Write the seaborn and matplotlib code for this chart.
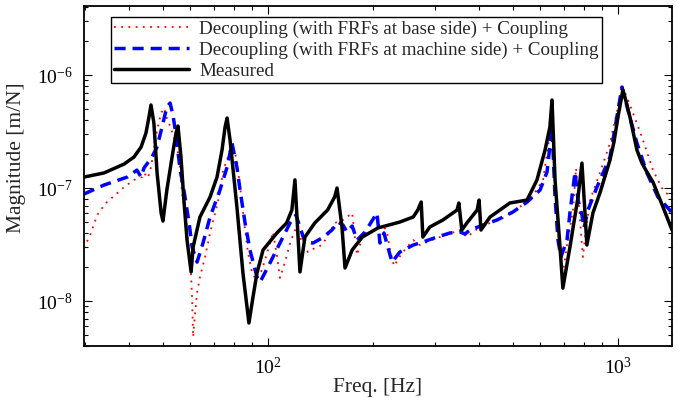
import numpy as np
import pandas as pd
import matplotlib
matplotlib.use("Agg")
import matplotlib.pyplot as plt
import seaborn as sns
from matplotlib.ticker import LogLocator, NullFormatter, LogFormatterSciNotation

# Decoupling (FRFs at base side) + Coupling
freq_base = [29.8, 31.2, 32.5, 34.4, 36.3, 38.8, 41.4, 43.65, 44.2, 45.4, 46.3, 47.2, 48.2, 49.5,
             50.5, 51.4, 52.5, 53.9, 55.7, 56.8, 58.3, 59.5, 60.3, 60.7, 61.1, 61.9, 62.7, 63.9,
             66.1, 68.3, 70.6, 72.9, 74.4, 76.4, 78.9, 81.5, 82.6, 84.3, 86.0, 87.7, 90.0, 92.4,
             96.1, 100, 103.3, 106, 108.2, 111.8, 116.3, 120.2, 125.1, 130.1, 136, 142.7, 147.4,
             155, 163.8, 174, 179.6, 186.8, 202.2, 213.1, 218.8, 223.2, 229.1, 241.5, 260, 271.8,
             304, 354, 370, 403, 469, 561, 611, 635, 648, 661, 678, 692, 715, 744, 759, 779, 794,
             810, 832, 888, 949, 1000, 1027, 1096, 1179, 1259, 1345, 1427]
mag_base = [2.94e-8, 4.00e-8, 5.77e-8, 7.37e-8, 8.49e-8, 1.02e-7, 1.18e-7, 1.25e-7, 1.36e-7, 1.23e-7,
            1.53e-7, 2.17e-7, 3.26e-7, 4.61e-7, 5.10e-7, 4.16e-7, 3.54e-7, 2.77e-7, 1.88e-7, 9.03e-8,
            5.21e-8, 2.83e-8, 1.63e-8, 1.02e-8, 4.80e-9, 7.83e-9, 1.18e-8, 1.63e-8, 2.45e-8, 4.00e-8,
            6.01e-8, 9.03e-8, 1.44e-7, 1.77e-7, 2.50e-7, 1.77e-7, 1.25e-7, 7.37e-8, 4.25e-8, 2.66e-8,
            1.81e-8, 1.53e-8, 1.88e-8, 2.83e-8, 4.08e-8, 2.55e-8, 1.60e-8, 2.21e-8, 3.46e-8, 4.43e-8,
            3.33e-8, 2.71e-8, 2.94e-8, 3.13e-8, 3.68e-8, 4.90e-8, 5.21e-8, 6.01e-8, 2.55e-8, 3.84e-8,
            4.25e-8, 4.70e-8, 4.08e-8, 2.83e-8, 2.04e-8, 2.66e-8, 3.46e-8, 3.13e-8, 3.61e-8, 4.25e-8,
            3.68e-8, 4.52e-8, 5.43e-8, 7.83e-8, 1.18e-7, 2.66e-7, 3.61e-7, 1.30e-7, 3.46e-8, 1.53e-8,
            3.13e-8, 6.39e-8, 1.50e-7, 5.21e-8, 2.45e-8, 4.25e-8, 7.83e-8, 1.36e-7, 2.50e-7, 5.21e-7,
            8.16e-7, 4.90e-7, 2.66e-7, 1.44e-7, 9.60e-8, 8.16e-8]

# Decoupling (FRFs at machine side) + Coupling
freq_machine = [29.8, 34.0, 39.6, 42.2, 43.4, 44.2, 46.6, 48.2, 49.8, 51.4, 52.5, 53.5, 54.6, 56.1,
                57.5, 59.5, 60.7, 62.7, 65.2, 68.3, 72.9, 76.4, 78.9, 81.5, 83.2, 86.0, 88.8, 93.0,
                94.9, 101.3, 108.2, 115.6, 120.2, 127.5, 134.5, 142.7, 152.3, 158.5, 163.8, 168.1,
                174, 179.6, 189.3, 204.8, 208.9, 214.5, 218.8, 226.2, 238, 260, 277, 304, 331, 354,
                365.5, 377.7, 411.5, 451, 501, 550, 599, 627, 648, 661, 674, 687, 715, 729, 754, 769,
                789, 800, 821, 871, 949, 993, 1026.6, 1068, 1133, 1210, 1301, 1390, 1427]
mag_machine = [8.85e-8, 1.063e-7, 1.25e-7, 1.44e-7, 1.25e-7, 1.50e-7, 1.88e-7, 2.31e-7, 3.47e-7,
               5.21e-7, 5.65e-7, 4.43e-7, 2.94e-7, 1.44e-7, 9.60e-8, 4.90e-8, 3.00e-8, 2.21e-8,
               3.26e-8, 5.54e-8, 9.60e-8, 1.53e-7, 2.50e-7, 1.53e-7, 9.60e-8, 4.90e-8, 2.83e-8,
               1.63e-8, 1.47e-8, 2.17e-8, 3.26e-8, 4.90e-8, 5.77e-8, 3.33e-8, 3.26e-8, 3.61e-8,
               4.25e-8, 5.00e-8, 4.70e-8, 4.08e-8, 4.61e-8, 3.46e-8, 4.08e-8, 6.01e-8, 3.26e-8,
               4.00e-8, 3.19e-8, 2.21e-8, 2.71e-8, 3.13e-8, 3.33e-8, 3.68e-8, 4.00e-8, 4.08e-8,
               3.92e-8, 4.25e-8, 4.70e-8, 5.21e-8, 6.13e-8, 7.52e-8, 9.60e-8, 1.385e-7, 3.47e-7,
               8.32e-8, 3.46e-8, 2.45e-8, 3.46e-8, 6.01e-8, 1.385e-7, 7.83e-8, 5.77e-8, 4.43e-8,
               6.39e-8, 1.02e-7, 1.88e-7, 4.25e-7, 7.83e-7, 4.90e-7, 2.50e-7, 1.36e-7, 8.32e-8,
               6.65e-8, 6.01e-8]

# Measured
freq_measured = [29.8, 34.0, 38.8, 41.4, 43.4, 44.8, 45.7, 46.3, 47.2, 48.2, 49.5, 50.1, 51.4, 53.2,
                 54.6, 55.3, 56.4, 57.5, 58.7, 60.3, 61.1, 63.9, 68.3, 71.5, 73.9, 75.4, 76.4, 77.9,
                 81.5, 84.8, 88.2, 90.6, 93.0, 96.8, 106, 113, 117, 119.4, 123.4, 127.5, 136, 148,
                 155, 157.5, 162.7, 166, 174, 186, 206, 238, 260, 268, 274, 277, 290, 316, 347, 351,
                 358, 370, 396, 401, 406, 431, 491, 550, 587, 619, 639, 648, 661, 683, 696, 729, 769,
                 789, 805, 815, 848, 888, 949, 974, 1000, 1033, 1054, 1082, 1133, 1171, 1210, 1259,
                 1345, 1427]
mag_measured = [1.25e-7, 1.36e-7, 1.63e-7, 1.88e-7, 2.31e-7, 3.07e-7, 4.25e-7, 5.43e-7, 3.76e-7,
                1.36e-7, 6.01e-8, 5.10e-8, 9.60e-8, 1.88e-7, 3.07e-7, 3.54e-7, 1.88e-7, 7.83e-8,
                3.46e-8, 1.81e-8, 3.00e-8, 5.54e-8, 8.32e-8, 1.25e-7, 2.17e-7, 3.47e-7, 4.16e-7,
                2.66e-7, 6.79e-8, 1.77e-8, 6.39e-9, 1.085e-8, 1.77e-8, 2.83e-8, 4.00e-8, 4.90e-8,
                6.39e-8, 1.18e-7, 1.81e-8, 3.68e-8, 4.90e-8, 6.39e-8, 8.32e-8, 1.0e-7, 4.52e-8,
                1.96e-8, 2.83e-8, 3.68e-8, 4.43e-8, 5.00e-8, 5.54e-8, 6.39e-8, 7.52e-8, 3.68e-8,
                4.52e-8, 5.21e-8, 6.39e-8, 7.37e-8, 4.25e-8, 4.90e-8, 6.39e-8, 7.83e-8, 4.25e-8,
                5.54e-8, 7.37e-8, 7.83e-8, 1.18e-7, 2.17e-7, 3.47e-7, 6.01e-7, 1.18e-7, 3.00e-8,
                1.30e-8, 3.00e-8, 8.32e-8, 1.66e-7, 6.01e-8, 3.13e-8, 6.01e-8, 9.03e-8, 1.77e-7,
                2.55e-7, 4.25e-7, 7.37e-7, 5.89e-7, 4.25e-7, 2.17e-7, 1.66e-7, 1.385e-7, 1.13e-7,
                6.79e-8, 4.25e-8]

labels = ["Decoupling (with FRFs at base side) + Coupling",
          "Decoupling (with FRFs at machine side) + Coupling",
          "Measured"]

sns.set_style("ticks")
plt.rcParams['font.family'] = ['Liberation Serif', 'DejaVu Serif']
plt.rcParams['mathtext.fontset'] = 'custom'
plt.rcParams['mathtext.rm'] = 'Liberation Serif'
plt.rcParams['mathtext.it'] = 'Liberation Serif:italic'
plt.rcParams['mathtext.bf'] = 'Liberation Serif:bold'

fig = plt.figure(figsize=(6.81, 4.07), dpi=100)
ax = fig.add_axes([84 / 681, 1 - 346 / 407, 588 / 681, 340 / 407])
ax.set_xscale('log')
ax.set_yscale('log')

sns.lineplot(x=freq_base, y=mag_base, ax=ax, color='#ff0000', linewidth=1.3,
             linestyle=(0, (1, 3)), label=labels[0], estimator=None, sort=False)
sns.lineplot(x=freq_machine, y=mag_machine, ax=ax, color='#0000ff', linewidth=2.5,
             linestyle=(0, (3.2, 2)), label=labels[1], estimator=None, sort=False)
sns.lineplot(x=freq_measured, y=mag_measured, ax=ax, color='black', linewidth=2.5,
             label=labels[2], estimator=None, sort=False)

ax.set_xlim(29.8, 1427)
ax.set_ylim(4e-9, 4.08e-6)

ax.xaxis.set_major_locator(LogLocator(base=10, numticks=10))
ax.xaxis.set_minor_locator(LogLocator(base=10, subs=np.arange(2, 10), numticks=20))
ax.yaxis.set_major_locator(LogLocator(base=10, numticks=10))
ax.yaxis.set_minor_locator(LogLocator(base=10, subs=np.arange(2, 10), numticks=20))
ax.xaxis.set_major_formatter(LogFormatterSciNotation())
ax.yaxis.set_major_formatter(LogFormatterSciNotation())
ax.xaxis.set_minor_formatter(NullFormatter())
ax.yaxis.set_minor_formatter(NullFormatter())

ax.tick_params(which='both', direction='in', top=True, right=True, colors='black',
               labelsize=14, width=0.8)
ax.tick_params(which='major', length=6, pad=8)
ax.tick_params(which='minor', length=3)
for s in ax.spines.values():
    s.set_linewidth(1.3)
    s.set_color('black')

ax.set_xlabel("Freq. [Hz]", fontsize=15.5, labelpad=0)
ax.set_ylabel("Magnitude [m/N]", fontsize=15.5)
ax.yaxis.set_label_coords(-0.098, 0.553)

leg = ax.legend(loc='upper left', bbox_to_anchor=(0.046, 0.968), borderaxespad=0,
                frameon=True, fancybox=False, edgecolor='black', framealpha=1,
                fontsize=13.7, handlelength=3.9, labelspacing=0.2, borderpad=0.18,
                handletextpad=0.55)
leg.get_frame().set_linewidth(1.0)

fig.savefig("out.png", dpi=100)
